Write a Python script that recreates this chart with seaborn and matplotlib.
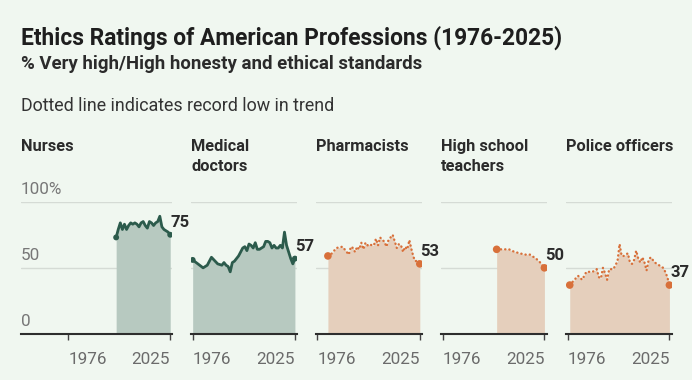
import matplotlib
matplotlib.use("Agg")
import matplotlib.pyplot as plt
import seaborn as sns
import pandas as pd

# ---------------- data ----------------
panel_titles = ["Nurses", "Medical\ndoctors", "Pharmacists", "High school\nteachers", "Police officers"]

nurse_years = list(range(1999, 2026))
nurse_vals = [73, 79, 84, 79, 83, 79, 82, 84, 83, 84, 83, 81, 84, 85, 82, 80, 85, 84, 82, 84,
              85, 89, 81, 79, 78, 77, 75]

doctor_years = [1976, 1981, 1983, 1985, 1988, 1990, 1991, 1992, 1993, 1994] + list(range(1995, 2026))
doctor_vals = [56, 50, 52, 58, 53, 52, 54, 52, 51, 47,
               54, 55, 57, 59, 62, 65, 66, 63, 68, 67, 65, 69, 64, 64, 65, 66, 70, 70, 69, 65,
               67, 65, 65, 67, 65, 77, 67, 62, 57, 53, 57]

pharm_years = [1981, 1983, 1985, 1988] + list(range(1990, 2026))
pharm_vals = [59, 61, 65, 66,
              62, 60, 66, 65, 62, 66, 64, 69, 64, 69,
              67, 68, 67, 67, 72, 67, 73, 71, 70, 66,
              71, 73, 75, 70, 65, 68, 67, 62, 66, 64,
              71, 64, 58, 55, 56, 53]

teacher_years = [2002, 2005, 2008, 2009, 2011, 2013, 2016, 2018, 2021, 2023, 2025]
teacher_vals = [64, 64, 64, 63, 62, 61, 60, 60, 57, 54, 50]

police_years = [1977, 1981, 1983, 1985, 1988] + list(range(1990, 2026))
police_vals = [37, 44, 41, 47, 47,
               49, 43, 42, 50, 46, 41, 49, 49, 49, 52,
               55, 68, 59, 59, 60, 61, 54, 53, 56, 63,
               57, 54, 58, 54, 48, 56, 58, 56, 54, 53,
               52, 51, 50, 47, 43, 37]

series_years = [nurse_years, doctor_years, pharm_years, teacher_years, police_years]
series_vals = [nurse_vals, doctor_vals, pharm_vals, teacher_vals, police_vals]
record_low = [False, False, True, True, True]

x_ticks = [1976, 2025]
y_grid = [50, 100]
y_labels = ["0", "50", "100%"]

# ---------------- style ----------------
BG = "#f0f7f0"
GREEN_LINE = "#2c5b4c"
GREEN_FILL = "#b7c9c0"
ORANGE_LINE = "#d8703a"
ORANGE_FILL = "#e5cfbc"
GRID = "#d5dbd5"

sns.set_theme(style="white", rc={"figure.facecolor": BG, "axes.facecolor": BG,
                                 "savefig.facecolor": BG})
plt.rcParams["font.family"] = ["Roboto", "DejaVu Sans"]

W, H = 692, 380
fig = plt.figure(figsize=(W / 100, H / 100), dpi=100)

y0_px, y100_px = 334, 201.7
panel_left_px = [20.7, 191, 316, 441, 566]
panel_right_px = [172.3, 297, 421.7, 546.7, 671.7]
xlims = [(1953.1, 2026.0), (1975.2, 2026.0), (1975.3, 2025.9), (1975.2, 2026.1), (1975.2, 2026.1)]

for i in range(5):
    l = panel_left_px[i] / W
    w = (panel_right_px[i] - panel_left_px[i]) / W
    b = 1 - y0_px / H
    h = (y0_px - y100_px) / H
    ax = fig.add_axes([l, b, w, h])
    ax.set_facecolor(BG)
    ax.set_xlim(*xlims[i])
    ax.set_ylim(0, 100)

    yrs = series_years[i]
    vals = series_vals[i]
    df = pd.DataFrame({"year": yrs, "value": vals})
    low = record_low[i]
    lc = ORANGE_LINE if low else GREEN_LINE
    fc = ORANGE_FILL if low else GREEN_FILL

    for g in y_grid:
        ax.axhline(g, color=GRID, lw=1.0, zorder=0)

    ax.fill_between(df["year"], 0, df["value"], color=fc, lw=0, zorder=1)
    sns.lineplot(data=df, x="year", y="value", ax=ax, color=lc, lw=2.0 if not low else 1.7,
                 zorder=3, legend=False)
    line = ax.lines[-1]
    if low:
        line.set_linestyle((0, (0.1, 1.7)))
        line.set_dash_capstyle("round")
    else:
        line.set_solid_joinstyle("round")
    ends = df.iloc[[0, -1]]
    sns.scatterplot(data=ends, x="year", y="value", ax=ax, color=lc,
                    s=18 if not low else 30, edgecolor="none", zorder=4, legend=False)

    ax.annotate(str(vals[-1]), xy=(yrs[-1], vals[-1]), xytext=(0.5, 9),
                textcoords="offset points", ha="left", va="center",
                fontsize=12, fontweight="bold", color="#2b2b2b", annotation_clip=False)

    for s in ["top", "right", "left"]:
        ax.spines[s].set_visible(False)
    ax.spines["bottom"].set_color("#2e2e2e")
    ax.spines["bottom"].set_linewidth(1.5)
    ax.set_yticks([])
    ax.set_xticks(x_ticks)
    ax.set_xticklabels([str(t) for t in x_ticks])
    ax.tick_params(axis="x", direction="out", length=4, width=1, color="#444444",
                   pad=9, labelsize=12.3, labelcolor="#6b6b6b", bottom=True)
    labs = ax.get_xticklabels()
    labs[0].set_horizontalalignment("left")
    labs[1].set_horizontalalignment("right")
    ax.set_xlabel("")
    ax.set_ylabel("")

    if i == 0:
        for v, t in zip([0, 50, 100], y_labels):
            ax.annotate(t, xy=(0, v), xycoords=("axes fraction", "data"), xytext=(0, 3.5),
                        textcoords="offset points", ha="left", va="bottom",
                        fontsize=12.3, color="#777777", annotation_clip=False)

    fig.text(panel_left_px[i] / W, 1 - 139 / H, panel_titles[i], ha="left", va="top",
             fontsize=11.8, fontweight="bold", color="#2b2b2b", linespacing=1.4)

fig.text(21 / W, 1 - 38 / H, "Ethics Ratings of American Professions (1976-2025)",
         ha="left", va="center", fontsize=16.4, fontweight="bold", color="#1e1e1e")
fig.text(21 / W, 1 - 64 / H, "% Very high/High honesty and ethical standards",
         ha="left", va="center", fontsize=13.4, fontweight="bold", color="#2b2b2b")
fig.text(21 / W, 1 - 106 / H, "Dotted line indicates record low in trend",
         ha="left", va="center", fontsize=12.9, color="#333333")

fig.savefig("out.png", dpi=100, facecolor=BG)
